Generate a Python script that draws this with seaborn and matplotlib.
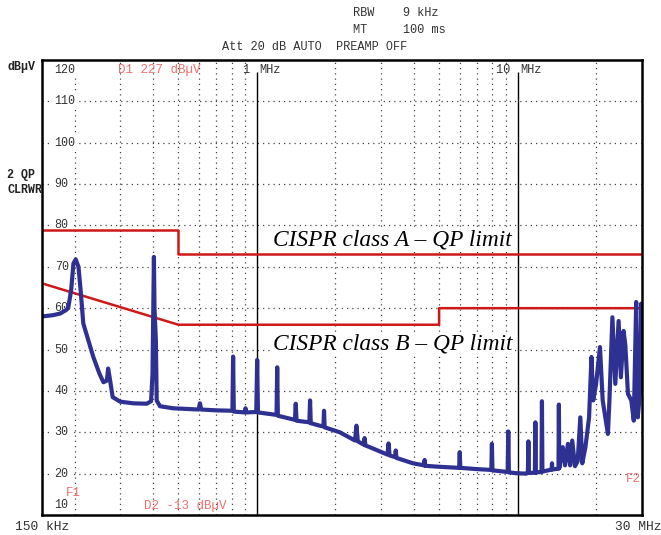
import numpy as np
import pandas as pd
import matplotlib
matplotlib.use("Agg")
import matplotlib.pyplot as plt
import matplotlib.transforms as mtransforms
from matplotlib.ticker import NullLocator
import seaborn as sns

# ---------------- data ----------------
trace_freq_mhz = [
    0.150, 0.165, 0.176, 0.185, 0.189, 0.194, 0.198, 0.202, 0.207, 0.211,
    0.216, 0.226, 0.236, 0.249, 0.258, 0.266, 0.269, 0.273, 0.280, 0.299,
    0.336, 0.378, 0.393, 0.398, 0.401, 0.403, 0.405, 0.410, 0.413, 0.425,
    0.478, 0.550, 0.598, 0.605, 0.612, 0.700, 0.800, 0.806, 0.811, 0.816,
    0.900, 0.905, 0.910, 0.995, 1.003, 1.010, 1.100, 1.190, 1.197, 1.204,
    1.300, 1.400, 1.410, 1.420, 1.590, 1.600, 1.610, 1.740, 1.800, 1.810,
    1.820, 2.080, 2.380, 2.410, 2.440, 2.570, 2.590, 2.610, 2.710, 3.170,
    3.200, 3.230, 3.390, 3.410, 3.430, 3.970, 4.380, 4.400, 4.420, 4.880,
    5.970, 6.000, 6.030, 6.950, 7.930, 7.970, 8.010, 8.540, 9.160, 9.210,
    9.260, 9.890, 10.80, 10.95, 11.00, 11.05, 11.65, 11.70, 11.75, 12.35,
    12.40, 12.45, 12.90, 13.50, 13.55, 13.60, 14.35, 14.40, 14.45, 14.90,
    15.20, 15.60, 15.90, 16.20, 16.60, 17.00, 17.40, 17.70, 18.20, 18.80,
    19.20, 19.50, 20.00, 20.70, 21.20, 22.20, 22.50, 23.10, 23.70, 24.40,
    24.90, 25.50, 25.90, 26.50, 27.30, 27.90, 28.50, 28.90, 29.50, 29.80,
    30.00,
]
trace_level_dbuv = [
    58.0, 58.3, 58.7, 59.5, 60.0, 64.3, 70.8, 71.8, 70.0, 64.3,
    56.3, 52.2, 48.2, 44.2, 42.1, 42.5, 45.4, 43.0, 38.5, 37.4,
    37.0, 36.9, 37.5, 44.0, 60.0, 72.4, 60.0, 52.2, 37.7, 36.3,
    35.8, 35.6, 35.5, 37.0, 35.5, 35.3, 35.2, 35.2, 48.3, 35.0,
    34.8, 35.8, 34.8, 34.9, 47.5, 34.8, 34.5, 34.2, 45.7, 34.0,
    33.5, 33.0, 36.9, 32.8, 32.4, 37.7, 32.2, 31.6, 31.4, 35.2,
    31.2, 30.0, 28.0, 31.6, 27.8, 27.0, 28.6, 26.8, 26.4, 24.6,
    27.3, 24.4, 24.0, 25.6, 23.8, 22.5, 22.0, 23.3, 21.9, 21.7,
    21.4, 25.2, 21.4, 21.1, 20.9, 27.2, 20.8, 20.6, 20.4, 30.2,
    20.3, 20.1, 20.0, 20.2, 27.8, 20.2, 20.2, 32.4, 20.3, 20.4,
    37.5, 20.5, 20.7, 21.0, 22.5, 21.0, 21.2, 36.7, 21.3, 26.4,
    22.0, 27.2, 22.0, 28.0, 21.8, 23.0, 33.6, 22.5, 26.4, 33.6,
    48.2, 37.7, 41.7, 50.6, 37.7, 29.6, 37.7, 57.8, 41.7, 56.9,
    43.3, 54.5, 51.0, 39.3, 37.7, 32.8, 61.5, 33.6, 40.0, 61.1,
    40.0,
]

limit_a_freq_mhz = [0.15, 0.5, 0.5, 30.0]
limit_a_level = [79, 79, 73, 73]
limit_b_freq_mhz = [0.15, 0.5, 5.0, 5.0, 30.0]
limit_b_level = [66, 56, 56, 60, 60]

y_tick_values = [110, 100, 90, 80, 70, 60, 50, 40, 30, 20]
dotted_freqs_mhz = [0.2, 0.3, 0.4, 0.5, 0.6, 0.7, 0.8, 0.9,
                    2, 3, 4, 5, 6, 7, 8, 9, 20]
solid_freqs_mhz = [1, 10]

# ---------------- figure ----------------
sns.set_style("white")
W, H = 661, 535
fig = plt.figure(figsize=(W / 100, H / 100), dpi=100)
ax = fig.add_axes([42 / W, 1 - 515 / H, 600 / W, 455 / H])
ax.set_xscale("log")
ax.set_xlim(0.15, 30)
ax.set_ylim(10, 120)

mono = "Liberation Mono"
grid_kw = dict(color="#444444", linewidth=0.9, linestyle=(0, (1, 3.2)), zorder=1)
for v in y_tick_values:
    ax.hlines(v, 0.15, 30, **grid_kw)
for f in dotted_freqs_mhz:
    ax.vlines(f, 10, 120, **grid_kw)
for f in solid_freqs_mhz:
    ax.vlines(f, 10, 117, color="black", linewidth=1.0, zorder=1)

# limit lines
lim_df_a = pd.DataFrame({"f": limit_a_freq_mhz, "L": limit_a_level})
lim_df_b = pd.DataFrame({"f": limit_b_freq_mhz, "L": limit_b_level})
sns.lineplot(data=lim_df_a, x="f", y="L", sort=False, estimator=None,
             color="#d01818", linewidth=1.8, ax=ax, zorder=3)
sns.lineplot(data=lim_df_b, x="f", y="L", sort=False, estimator=None,
             color="#d01818", linewidth=1.8, ax=ax, zorder=3)

# measured trace
trace_df = pd.DataFrame({"f": trace_freq_mhz, "L": trace_level_dbuv})
sns.lineplot(data=trace_df, x="f", y="L", sort=False, estimator=None,
             color="#2e3192", linewidth=3.0, ax=ax, zorder=5)

ax.set_xlabel("")
ax.set_ylabel("")
ax.set_xticks([])
ax.set_yticks([])
ax.xaxis.set_minor_locator(NullLocator())
ax.yaxis.set_minor_locator(NullLocator())
for s in ax.spines.values():
    s.set_visible(True)
    s.set_linewidth(1.8)
    s.set_color("black")
    s.set_zorder(10)

# y labels inside the box
blend = mtransforms.blended_transform_factory(ax.transAxes, ax.transData)
lab_kw = dict(family=mono, fontsize=8.4, color="#333333", va="center", ha="left",
              transform=blend, zorder=2,
              bbox=dict(facecolor="white", edgecolor="none", pad=1.2))
ax.text(0.021, 117.6, "120", **lab_kw)
for v in y_tick_values:
    ax.text(0.021, v, str(v), **lab_kw)
ax.text(0.021, 12.4, "10", **lab_kw)

# frequency labels at top
ax.text(1.0, 117.6, "1 ", family=mono, fontsize=8.6, color="#333333", ha="right",
        va="center", zorder=4)
ax.text(1.02, 117.6, "MHz", family=mono, fontsize=8.6, color="#333333", ha="left",
        va="center", zorder=4)
ax.text(10.0, 117.6, "10 ", family=mono, fontsize=8.6, color="#333333", ha="right",
        va="center", zorder=4)
ax.text(10.2, 117.6, "MHz", family=mono, fontsize=8.6, color="#333333", ha="left",
        va="center", zorder=4)

# CISPR annotations
cis_kw = dict(family="Liberation Serif", style="italic", fontsize=16.8, color="black",
              ha="left", va="center", zorder=4,
              bbox=dict(facecolor="white", edgecolor="none", pad=0.8))
ax.text(1.15, 76.4, "CISPR class A \u2013 QP limit", **cis_kw)
ax.text(1.15, 51.4, "CISPR class B \u2013 QP limit", **cis_kw)


def ftext(x, y, s, **kw):
    fig.text(x / W, 1 - y / H, s, va="center", ha="left", **kw)


hdr = dict(family=mono, fontsize=8.6, color="#333333")
ftext(353, 13, "RBW    9 kHz", **hdr)
ftext(353, 30, "MT     100 ms", **hdr)
ftext(222, 47, "Att 20 dB AUTO  PREAMP OFF", **hdr)
ftext(7, 67, "dB\u00b5V", family=mono, fontsize=8.4, weight="bold", color="#222222")
ftext(7, 175, "2 QP", family=mono, fontsize=8.4, weight="bold", color="#222222")
ftext(7, 190, "CLRWR", family=mono, fontsize=8.4, weight="bold", color="#222222")

red = dict(family=mono, fontsize=9.0, color="#f07070", zorder=6)
ftext(118, 70, "D1 227 dB\u00b5V", **red)
ftext(144, 506, "D2 -13 dB\u00b5V", **red)
ftext(66, 493, "F1", **red)
ftext(626, 479, "F2", **red)

ftext(15, 527, "150 kHz", family=mono, fontsize=9.4, color="#333333")
ftext(615, 527, "30 MHz", family=mono, fontsize=9.4, color="#333333")

fig.savefig("out.png", dpi=100, facecolor="white")
